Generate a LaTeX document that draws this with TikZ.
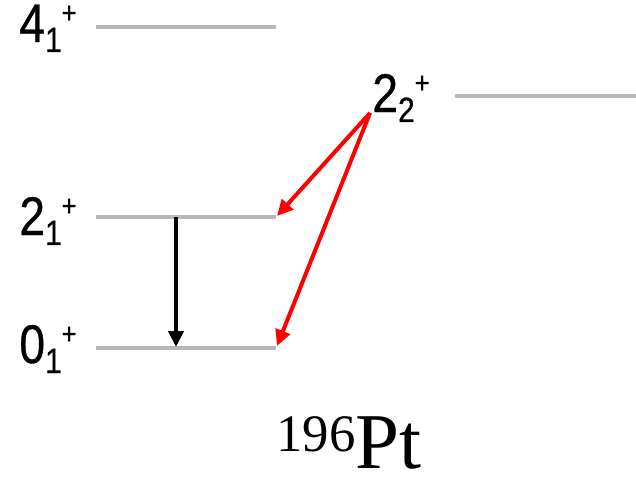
\documentclass[tikz,border=0pt]{standalone}
\usepackage{fontspec}
\setmainfont{Liberation Serif}
\newfontfamily\levelfont[FakeStretch=0.85, FakeBold=0.6]{Liberation Sans}
\usepackage{tikz}
\usetikzlibrary{
    arrows.meta
}
\definecolor{levelgray}{HTML}{B8B8B8}
\definecolor{transred}{HTML}{FF0000}
\newcommand{\lvlname}[2]{%
    {\fontsize{31}{31}\selectfont #1}%
    \raisebox{-0.2cm}{\fontsize{20}{20}\selectfont #2}%
    \raisebox{0.38cm}{\fontsize{17}{17}\selectfont +}}
\tikzset{
    level line/.style={
        draw=levelgray, line width=0.065cm
    },
    level label/.style={
        anchor=base west, inner sep=0pt,
        font=\levelfont
    },
    gamma/.style={
        -{Triangle[length=0.32cm, width=0.3cm]},
        line width=0.08cm, color=#1
    },
    gamma/.default={black},
}

\begin{document}
\begin{tikzpicture}[x=0.02cm, y=-0.02cm]

    \useasboundingbox (0,0) rectangle (636,480);

    % ── Levels ──
    \coordinate (l41w) at (96,27);
    \coordinate (l41e) at (276,27);
    \coordinate (l22w) at (455,96);
    \coordinate (l22e) at (636,96);
    \coordinate (l21w) at (96,217);
    \coordinate (l21e) at (276,217);
    \coordinate (l01w) at (96,348);
    \coordinate (l01e) at (276,348);

    \draw[level line] (l41w) -- (l41e);
    \draw[level line] (l22w) -- (l22e);
    \draw[level line] (l21w) -- (l21e);
    \draw[level line] (l01w) -- (l01e);

    \node[level label] (lab41) at (19,42) {\lvlname{4}{1}};
    \node[level label] (lab22) at (372,112) {\lvlname{2}{2}};
    \node[level label] (lab21) at (19,235) {\lvlname{2}{1}};
    \node[level label] (lab01) at (19,363) {\lvlname{0}{1}};

    % ── Transitions ──
    \coordinate (src22) at (370,113);
    \coordinate (top21) at (176,217);
    \coordinate (bot01) at (176,347);
    \coordinate (end21) at (277,216);
    \coordinate (end01) at (277,346);

    \draw[gamma] (top21) -- (bot01);
    \draw[gamma=transred] (src22) -- (end21);
    \draw[gamma=transred] (src22) -- (end01);

    % ── Nucleus ──
    \node[anchor=base west, inner sep=0pt] (nucleus) at (276,468)
        {\raisebox{0.34cm}{\fontsize{30}{30}\selectfont 196}\fontsize{45}{45}\selectfont Pt};

\end{tikzpicture}
\end{document}
